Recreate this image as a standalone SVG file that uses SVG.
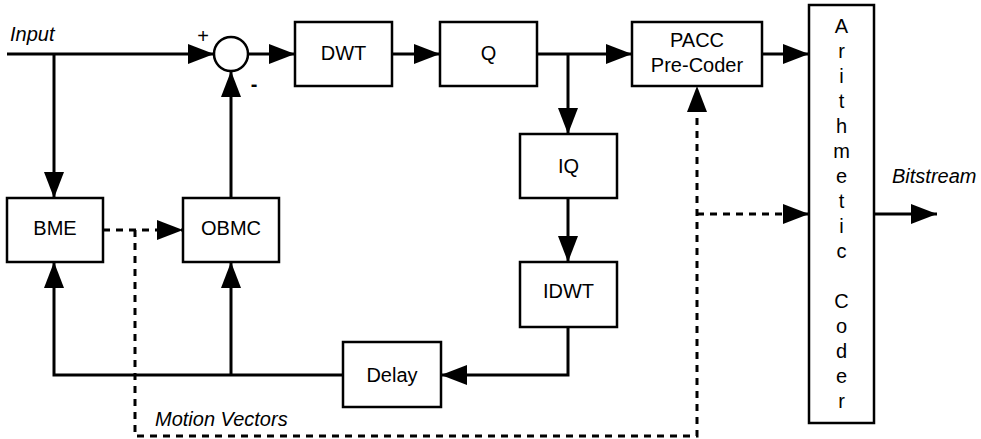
<svg xmlns="http://www.w3.org/2000/svg" width="981" height="439" viewBox="0 0 981 439">
  <style>
    .box { fill: #fff; stroke: #000; stroke-width: 2.5; }
    .lbl { font-family: "Liberation Sans", Arial, sans-serif; font-size: 20px; fill: #000; text-anchor: middle; }
    .it { font-family: "Liberation Sans", Arial, sans-serif; font-size: 20px; font-style: italic; fill: #000; }
    .wire { fill: none; stroke: #000; stroke-width: 3; }
    .dash { fill: none; stroke: #000; stroke-width: 3; stroke-dasharray: 7 6; }
  </style>
  <defs>
    <marker id="arrow" viewBox="0 0 26 20" markerWidth="26" markerHeight="20" refX="26" refY="10" orient="auto" markerUnits="userSpaceOnUse">
      <path d="M0,0 L26,10 L0,20 Z" fill="#000"/>
    </marker>
  </defs>
  <rect width="981" height="439" fill="#fff"/>

  <!-- connectors -->
  <g id="connectors">
    <path class="wire" d="M7,54 H214" marker-end="url(#arrow)"/>
    <path class="wire" d="M54,54 V198" marker-end="url(#arrow)"/>
    <path class="wire" d="M248,54 H295" marker-end="url(#arrow)"/>
    <path class="wire" d="M392,54 H440" marker-end="url(#arrow)"/>
    <path class="wire" d="M537,54 H632" marker-end="url(#arrow)"/>
    <path class="wire" d="M568,54 V134" marker-end="url(#arrow)"/>
    <path class="wire" d="M568,198 V262" marker-end="url(#arrow)"/>
    <path class="wire" d="M762,54 H809" marker-end="url(#arrow)"/>
    <path class="wire" d="M874,214 H937" marker-end="url(#arrow)"/>
    <path class="wire" d="M231,198 V71" marker-end="url(#arrow)"/>
    <path class="wire" d="M568,327 V375 H441" marker-end="url(#arrow)"/>
    <path class="wire" d="M343,375 H54 V262" marker-end="url(#arrow)"/>
    <path class="wire" d="M231,375 V262" marker-end="url(#arrow)"/>
    <!-- motion vector paths -->
    <path class="dash" d="M103,230 H183" marker-end="url(#arrow)"/>
    <path class="dash" d="M135,230 V436 H697 V86" marker-end="url(#arrow)"/>
    <path class="dash" d="M697,214 H809" marker-end="url(#arrow)"/>
  </g>

  <g id="sum">
    <circle cx="231" cy="54" r="17" fill="#fff" stroke="#000" stroke-width="2.5"/>
    <text class="lbl" x="203" y="43">+</text>
    <text class="lbl" x="254" y="91" style="font-weight:bold">-</text>
  </g>

  <g id="dwt"><rect class="box" x="295" y="22" width="97" height="64"/><text class="lbl" x="343.5" y="60">DWT</text></g>
  <g id="q"><rect class="box" x="440" y="22" width="97" height="64"/><text class="lbl" x="488.5" y="60">Q</text></g>
  <g id="pacc"><rect class="box" x="632" y="22" width="130" height="64"/><text class="lbl" x="697" y="47">PACC</text><text class="lbl" x="697" y="72">Pre-Coder</text></g>
  <g id="iq"><rect class="box" x="520" y="134" width="97" height="64"/><text class="lbl" x="568.5" y="173">IQ</text></g>
  <g id="idwt"><rect class="box" x="520" y="262" width="97" height="65"/><text class="lbl" x="568.5" y="298">IDWT</text></g>
  <g id="delay"><rect class="box" x="343" y="342" width="98" height="65"/><text class="lbl" x="392" y="382">Delay</text></g>
  <g id="bme"><rect class="box" x="7" y="198" width="96" height="64"/><text class="lbl" x="55" y="235">BME</text></g>
  <g id="obmc"><rect class="box" x="183" y="198" width="96" height="64"/><text class="lbl" x="231" y="235">OBMC</text></g>
  <g id="arith">
    <rect class="box" x="809" y="5" width="65" height="418"/>
    <text class="lbl" x="841.5" y="33">A<tspan x="841.5" dy="25">r</tspan><tspan x="841.5" dy="25">i</tspan><tspan x="841.5" dy="25">t</tspan><tspan x="841.5" dy="25">h</tspan><tspan x="841.5" dy="25">m</tspan><tspan x="841.5" dy="25">e</tspan><tspan x="841.5" dy="25">t</tspan><tspan x="841.5" dy="25">i</tspan><tspan x="841.5" dy="25">c</tspan><tspan x="841.5" dy="50">C</tspan><tspan x="841.5" dy="25">o</tspan><tspan x="841.5" dy="25">d</tspan><tspan x="841.5" dy="25">e</tspan><tspan x="841.5" dy="25">r</tspan></text>
  </g>

  <g id="labels">
    <text class="it" x="10" y="41">Input</text>
    <text class="it" x="892" y="183">Bitstream</text>
    <text class="it" x="155" y="426">Motion Vectors</text>
  </g>
</svg>
